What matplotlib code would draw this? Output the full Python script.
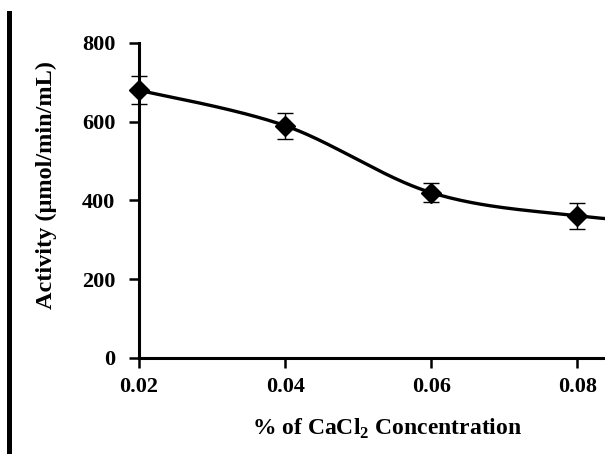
import numpy as np
import matplotlib
matplotlib.use("Agg")
import matplotlib.pyplot as plt
from matplotlib.patches import Rectangle

plt.rcParams['font.family'] = ['Liberation Serif', 'DejaVu Serif']
plt.rcParams['font.weight'] = 'bold'
plt.rcParams['mathtext.fontset'] = 'custom'
plt.rcParams['mathtext.rm'] = 'Liberation Serif:bold'
plt.rcParams['mathtext.bf'] = 'Liberation Serif:bold'

# CaCl2 concentration (%) vs. enzyme activity
concentration = [0.02, 0.04, 0.06, 0.08, 0.10]
activity = [680, 590, 420, 361, 335]
activity_err = [35, 33, 25, 33, 30]

x_ticks = [0.02, 0.04, 0.06, 0.08]
y_ticks = [0, 200, 400, 600, 800]


def smooth_curve(xs, ys, n=60):
    """Catmull-Rom style smoothed line through the points (cubic Bezier segments)."""
    pts = np.column_stack([xs, ys]).astype(float)
    scale = np.array([xs[-1] - xs[0], max(ys) - min(ys)])
    p = pts / scale
    out = []
    for i in range(len(p) - 1):
        p0 = p[i - 1] if i > 0 else p[i]
        p1 = p[i]
        p2 = p[i + 1]
        p3 = p[i + 2] if i + 2 < len(p) else p[i + 1]
        c1 = p1 + (p2 - p0) / 6.0
        c2 = p2 - (p3 - p1) / 6.0
        t = np.linspace(0, 1, n)[:, None]
        seg = ((1 - t) ** 3) * p1 + 3 * ((1 - t) ** 2) * t * c1 + 3 * (1 - t) * t ** 2 * c2 + t ** 3 * p2
        out.append(seg if i == 0 else seg[1:])
    out = np.vstack(out) * scale
    return out[:, 0], out[:, 1]


fig = plt.figure(figsize=(6.05, 4.54), dpi=100)
fig.patch.set_facecolor('white')
ax = fig.add_axes([0.2298, 0.2115, 0.7702, 0.6938])

sx, sy = smooth_curve(concentration, activity)
ax.plot(sx, sy, color='black', lw=2.4, zorder=2)
eb = ax.errorbar(concentration, activity, yerr=activity_err, fmt='none', ecolor='black',
                 elinewidth=1.0, capsize=6, capthick=1.0, zorder=3)
for artist in eb.lines[1] + eb.lines[2]:
    artist.set_clip_on(False)
ax.plot(concentration[:4], activity[:4], linestyle='none', marker='D', markersize=10,
        color='black', zorder=4, clip_on=False)

ax.set_xlim(0.02, 0.0838)
ax.set_ylim(0, 800)
ax.set_xticks(x_ticks)
ax.set_xticklabels([f"{v:.2f}" for v in x_ticks])
ax.set_yticks(y_ticks)

for side in ('top', 'right'):
    ax.spines[side].set_visible(False)
for side in ('left', 'bottom'):
    ax.spines[side].set_linewidth(2.2)
    ax.spines[side].set_color('black')

ax.tick_params(axis='both', direction='out', length=7, width=1.8, labelsize=16)
ax.tick_params(axis='y', pad=10)
ax.tick_params(axis='x', pad=7)
for lbl in ax.get_xticklabels() + ax.get_yticklabels():
    lbl.set_fontweight('bold')

ax.set_ylabel('Activity (μmol/min/mL)', fontsize=17.5, fontweight='bold')
ax.set_xlabel(r'% of CaCl$_{2}$ Concentration', fontsize=17, fontweight='bold')
ax.yaxis.set_label_coords(-0.177, 0.549)
ax.xaxis.set_label_coords(0.532, -0.188)

# heavy vertical rule along the left edge of the figure
fig.patches.append(Rectangle((7 / 605, 0), 5 / 605, 1 - 11 / 454, transform=fig.transFigure,
                             facecolor='black', edgecolor='none'))

fig.savefig('out.png', dpi=100, facecolor='white')
